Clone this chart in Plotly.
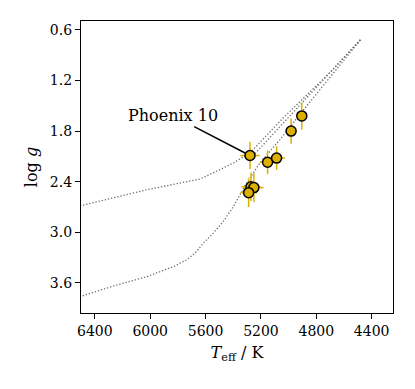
import plotly.graph_objects as go

# Stars (Teff in K, log g) with uncertainties
star_teff = [5279, 5152, 5087, 4982, 4905, 5272, 5251, 5289]
star_logg = [2.09, 2.17, 2.12, 1.80, 1.62, 2.46, 2.47, 2.53]
star_teff_err = [70, 55, 60, 35, 35, 70, 70, 60]
star_logg_err = [0.16, 0.14, 0.14, 0.15, 0.16, 0.17, 0.17, 0.17]

# Isochrone A (upper)
isoA_teff = [6600, 6492, 6024, 5640, 5496, 5400, 5279, 5039, 4703, 4474]
isoA_logg = [2.70, 2.681, 2.495, 2.368, 2.257, 2.178, 2.059, 1.643, 1.108, 0.705]
# Isochrone A returning branch
isoA2_teff = [5243, 5027, 4811, 4595, 4474]
isoA2_logg = [2.067, 1.687, 1.307, 0.927, 0.705]
# Isochrone B (lower)
isoB_teff = [6600, 6492, 6264, 6024, 5832, 5736, 5676, 5616, 5544, 5472, 5400,
             5303, 5207, 5063, 4871, 4703, 4474]
isoB_logg = [3.80, 3.754, 3.635, 3.525, 3.406, 3.326, 3.247, 3.128, 3.009, 2.871, 2.697,
             2.415, 2.178, 1.901, 1.505, 1.168, 0.705]

x_ticks = [6400, 6000, 5600, 5200, 4800, 4400]
y_ticks = [0.6, 1.2, 1.8, 2.4, 3.0, 3.6]

gold = "#DDB000"
line_style = dict(color="#6e6e6e", width=1.3, dash="1.3px,1.9px")
FONT = "DejaVu Serif"

fig = go.Figure()
for tx, gy in [(isoA_teff, isoA_logg), (isoA2_teff, isoA2_logg), (isoB_teff, isoB_logg)]:
    fig.add_trace(go.Scatter(x=tx, y=gy, mode="lines", line=line_style,
                             hoverinfo="skip", showlegend=False))

fig.add_trace(go.Scatter(
    x=star_teff, y=star_logg, mode="markers",
    marker=dict(size=10, color=gold, line=dict(color="black", width=1.5)),
    error_x=dict(type="data", array=star_teff_err, color=gold, thickness=1.5, width=0),
    error_y=dict(type="data", array=star_logg_err, color=gold, thickness=1.5, width=0),
    showlegend=False))

fig.add_annotation(x=star_teff[0], y=star_logg[0], text="Phoenix 10",
                   showarrow=True, arrowhead=0, arrowwidth=1.5, arrowcolor="black",
                   ax=-77, ay=-40, standoff=5,
                   font=dict(family=FONT, size=16, color="black"))

axis_common = dict(showline=True, linecolor="black", linewidth=1.2, mirror=True,
                   ticks="outside", ticklen=5, tickwidth=1, tickcolor="black",
                   showgrid=False, zeroline=False,
                   tickfont=dict(family=FONT, size=14, color="black"))

fig.update_xaxes(range=[6500, 4246], tickvals=x_ticks,
                 ticktext=[str(v) for v in x_ticks],
                 title=dict(text="<i>T</i><sub>eff</sub> / K", standoff=8,
                            font=dict(family=FONT, size=16, color="black")),
                 **axis_common)
fig.update_yaxes(range=[3.956, 0.4955], tickvals=y_ticks,
                 ticktext=[f"{v:.1f}" for v in y_ticks],
                 title=dict(text="log <i>g</i>", standoff=8,
                            font=dict(family=FONT, size=16, color="black")),
                 **axis_common)

fig.update_layout(width=415, height=389, margin=dict(l=81, r=22, t=21, b=76),
                  plot_bgcolor="white", paper_bgcolor="white",
                  font=dict(family=FONT, color="black"))

fig.write_html("out.html", config={"displayModeBar": False})

# remove default page margin so the figure sits at the window origin
with open("out.html", encoding="utf-8") as f:
    html = f.read()
html = html.replace("<head>", '<head><style>html,body{margin:0;padding:0;}</style>', 1)
with open("out.html", "w", encoding="utf-8") as f:
    f.write(html)
